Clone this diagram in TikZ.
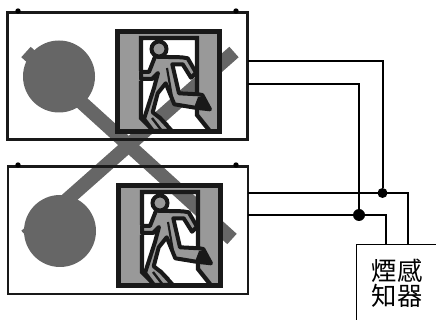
\documentclass[tikz,border=0pt]{standalone}
\usepackage{fontspec}
\newfontfamily\cjk{Noto Sans CJK TC}
\definecolor{stickgray}{HTML}{666666}
\definecolor{panelgray}{HTML}{999999}
\tikzset{
  stick/.style={draw=stickgray, line width=10.5pt},
  lamp/.style={circle, fill=stickgray, inner sep=0pt, minimum size=54pt},
  housing/.style={draw=black!90, line width=2pt, rectangle, inner sep=0pt},
  wire/.style={draw=black, line width=1.5pt},
  joint/.style={circle, fill=black, inner sep=0pt},
  nub/.style={circle, fill=black, inner sep=0pt, minimum size=4pt},
  exitsign/.pic={
    \fill [panelgray, even odd rule]
      (118,32) rectangle (219,131)
      (141,38) -- (197,38) -- (197,115) -- (209,130) -- (153,130) -- (141,118) -- cycle;
    \draw [line width=3.2pt, black!90] (117.5,31.5) rectangle (219.5,131.5);
    \draw [line width=3.2pt, black!90, line join=miter]
      (141,71) -- (141,38) -- (197,38) -- (197,115) -- (209,130);
    \draw [line width=3.2pt, black!90] (141,81) -- (141,118) -- (153,130);
    % figure
    \draw [fill=panelgray, draw=black!90, line width=3pt, line join=round]
      (155,56.7) -- (181.7,57.3) -- (187.7,58.3) -- (196,72.7) -- (191,77.7)
      -- (182.7,64.3) -- (172.3,64.3) -- (179,93.3) -- (198.3,94.3) -- (202.3,95)
      -- (210,109.3) -- (195,107.7) -- (174.3,104.3) -- (165.7,83.3) -- (157.7,93.3)
      -- (152.7,112.3) -- (160,118) -- (172,131) -- (153,131) -- (144,119)
      -- (154,88) -- (158,73) -- (152,79) -- (141,79) -- (141,72) -- (149,72) -- cycle;
    \fill [black!90] (198,97) -- (203,97) -- (210,109.3) -- (194,107.7) -- cycle;
    \draw [line width=1.8pt, black!90] (152,118) -- (162,131) (159,116) -- (168,125);
    \draw [line width=1.6pt, black!90] (167,68) -- (172,97);
    \draw [fill=panelgray, draw=black!90, line width=3pt] (159,49) circle (7.5);
  }
}
\begin{document}
\begin{tikzpicture}[x=0.75pt, y=-0.75pt]
\clip (0,0) rectangle (436,320);
%
\draw [stick] (26,52) -- (232,239);
\draw [stick] (234,52) -- (26,236);
%
\node (lampA) at (59,76.5) [lamp] {};
\node (lampB) at (60,231) [lamp] {};
%
\node (boxA) at (127.5,76) [housing, minimum width=180pt, minimum height=95.5pt] {};
\node (boxB) at (128,230.5) [housing, minimum width=180pt, minimum height=95.5pt] {};
%
\foreach \nx in {18,236} {
  \node (nubA\nx) at (\nx,11) [nub] {};
  \node (nubB\nx) at (\nx,165) [nub] {};
}
%
\pic at (0,0) {exitsign};
\pic at (1,154) {exitsign};
%
\node (sensor) at (356,244) [draw, line width=0.8pt, rectangle, anchor=north west,
  minimum width=70pt, minimum height=70pt, inner sep=0pt] {};
\node (sensortext) at (397,283) [font=\cjk\fontsize{19pt}{19pt}\selectfont, align=center] {煙感\\知器};
%
\coordinate (a1) at (248,61);
\coordinate (a2) at (248,84);
\coordinate (b1) at (248,193);
\coordinate (b2) at (248,215);
\coordinate (s1) at (408,244);
\coordinate (s2) at (386,244);
\node (j1) at (382.5,193) [joint, minimum size=7.5pt] {};
\node (j2) at (359,215) [joint, minimum size=9pt] {};
%
\draw [wire] (a1) -| (j1);
\draw [wire] (a2) -| (j2);
\draw [wire] (b1) -| (s1);
\draw [wire] (b2) -| (s2);
\end{tikzpicture}
\end{document}
